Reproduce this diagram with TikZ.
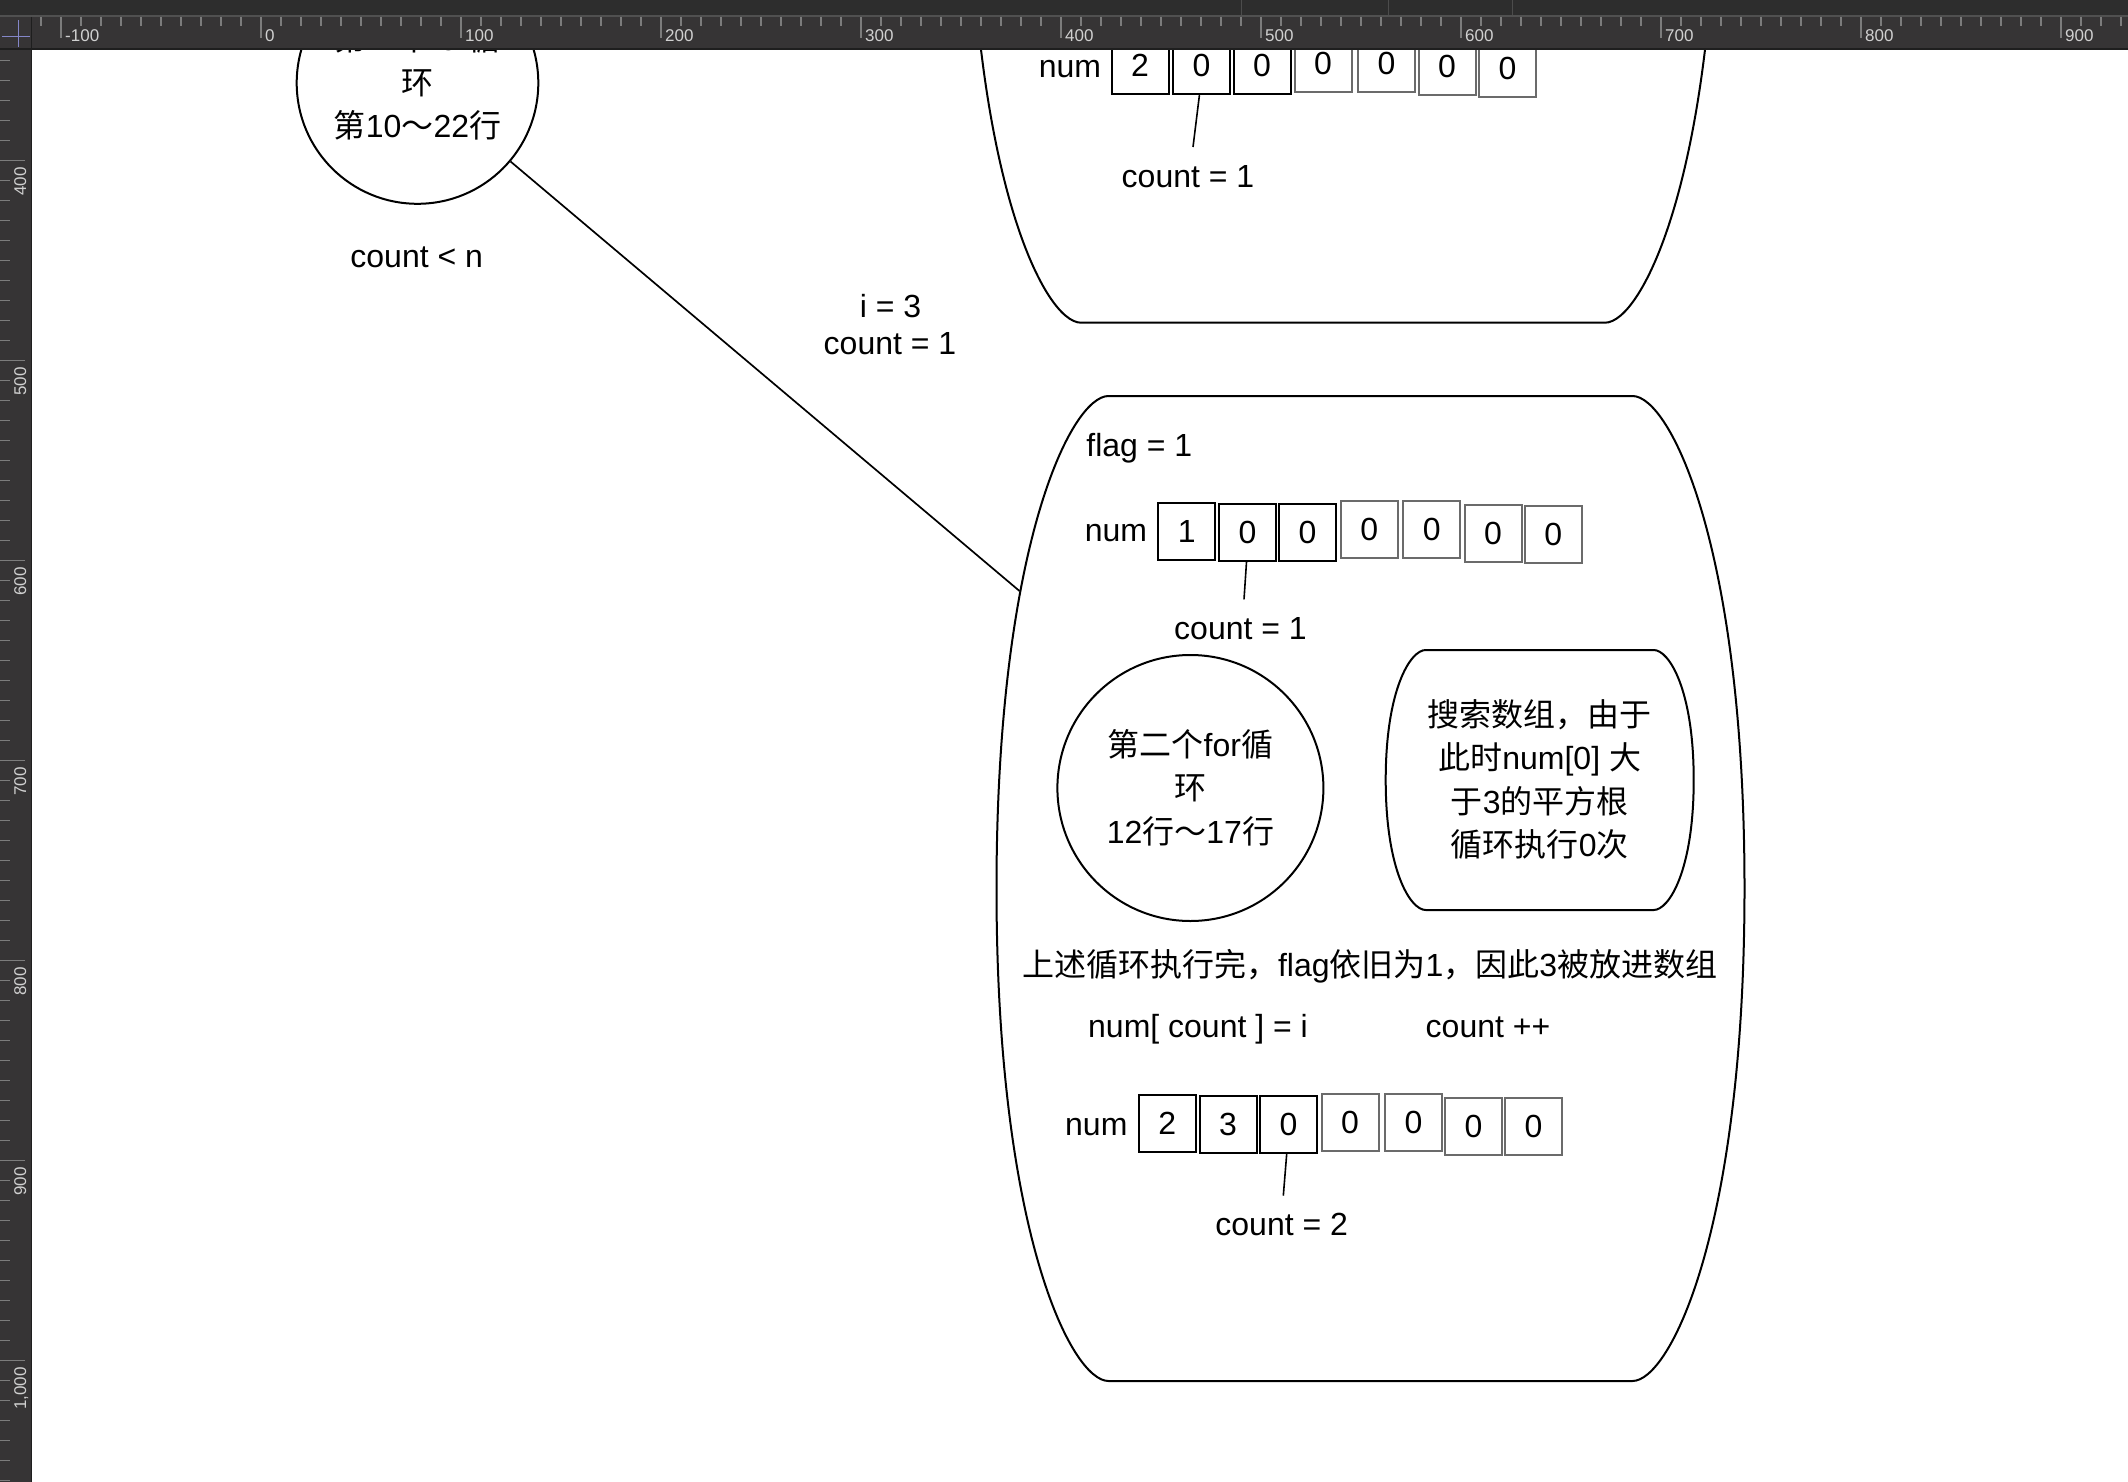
\documentclass[tikz,border=0pt]{standalone}
\usepackage{fontspec}
\setmainfont{Liberation Sans}
\newfontfamily\cjk{Noto Sans CJK SC}
\definecolor{topbg}{HTML}{2D2D2D}
\definecolor{rulerbg}{HTML}{363435}
\definecolor{rulerline}{HTML}{1E1E1E}
\definecolor{seam}{HTML}{505050}
\definecolor{rulertick}{HTML}{7C7C7C}
\definecolor{rulertext}{HTML}{D0D0D0}
\definecolor{crosscol}{HTML}{8486C8}
\newcommand\lnstrut{\rule[-7pt]{0pt}{37pt}}
\newcommand\barrel[6][]{%
  \pgfmathsetmacro\brlM{(#3+#4)/2}%
  \pgfmathsetmacro\brlH{(#4-#3)/2*0.305}%
  \pgfmathsetmacro\brlP{#5+0.1*#6}%
  \draw[#1] (#2-#5,#3) -- (#2+#5,#3)
    .. controls (#2+\brlP,#3) and (#2+#6,#3+\brlH) .. (#2+#6,\brlM)
    .. controls (#2+#6,#4-\brlH) and (#2+\brlP,#4) .. (#2+#5,#4)
    -- (#2-#5,#4)
    .. controls (#2-\brlP,#4) and (#2-#6,#4-\brlH) .. (#2-#6,\brlM)
    .. controls (#2-#6,#3+\brlH) and (#2-\brlP,#3) .. (#2-#5,#3) -- cycle;
}
\tikzset{
  txt/.style={font=\fontsize{32}{43.5}\selectfont, inner sep=0pt},
  lbl/.style={txt, anchor=base},
  cell/.style={draw, line width=2pt, minimum width=57pt, minimum height=57pt, inner sep=0pt, font=\fontsize{32}{38}\selectfont},
  gcell/.style={cell, draw=black!58},
  ring/.style={circle, draw, line width=2pt, inner sep=0pt, align=center, font=\fontsize{32}{43.5}\selectfont},
  shell/.style={line width=2pt},
  link/.style={line width=1.7pt},
  ptr/.style={line width=1.6pt},
  tick/.style={draw=rulertick, line width=1.2pt},
  rlab/.style={text=rulertext, font=\fontsize{17}{17}\selectfont, inner sep=0pt},
}
\begin{document}
\begin{tikzpicture}[x=1pt,y=-1pt]
\useasboundingbox (0,0) rectangle (2128,1482);
\fill[white] (0,0) rectangle (2128,1482);

% ---------- first loop circle ----------
\node[ring, minimum size=241.6pt] (c1) at (417.5,83) {\lnstrut{\cjk 第一个}for{\cjk 循}\\\lnstrut{\cjk 环}\\\lnstrut{\cjk 第}10{\cjk ～}22{\cjk 行}};
\node[lbl] (cn) at (416.7,267) {count < n};

% ---------- connector ----------
\coordinate (bigL) at (1019.5,591);
\draw[link] (c1) -- (bigL);
\node[lbl] (i3) at (890.5,317) {i = 3};
\node[lbl] (ic1) at (890,354.5) {count = 1};

% ---------- top container (cut off) ----------
\barrel[shell]{1343}{-662}{322.7}{262}{374}
\node[lbl] (tnum) at (1070,78) {num};
\node[cell]  (t1) at (1140,65.7) {2};
\node[cell]  (t2) at (1201.4,65.7) {0};
\node[cell]  (t3) at (1262,65.7) {0};
\node[gcell] (t4) at (1323,63.7) {0};
\node[gcell] (t5) at (1386.5,63.7) {0};
\node[gcell] (t6) at (1447,66.5) {0};
\node[gcell] (t7) at (1507.5,68.2) {0};
\coordinate (tp) at (1193,147);
\draw[ptr] ([xshift=-2pt]t2.south) -- (tp);
\node[lbl] (tcnt) at (1188,187.5) {count = 1};

% ---------- big container ----------
\barrel[shell]{1370.5}{396}{1381}{262}{374}
\node[lbl] (flag) at (1139.3,456) {flag = 1};
\node[lbl] (bnum) at (1116,541.7) {num};
\node[cell]  (b1) at (1186.7,531.4) {1};
\node[cell]  (b2) at (1247.5,532.3) {0};
\node[cell]  (b3) at (1307.5,532.3) {0};
\node[gcell] (b4) at (1369.2,529.5) {0};
\node[gcell] (b5) at (1431.8,529.5) {0};
\node[gcell] (b6) at (1493,533) {0};
\node[gcell] (b7) at (1553.3,534) {0};
\coordinate (bp) at (1244,599.3);
\draw[ptr] ([xshift=-1pt]b2.south) -- (bp);
\node[lbl] (bcnt) at (1240.5,639.3) {count = 1};

\node[ring, minimum size=266pt] (c2) at (1190.4,788) {\lnstrut{\cjk 第二个}for{\cjk 循}\\\lnstrut{\cjk 环}\\\lnstrut 12{\cjk 行～}17{\cjk 行}};

\node[txt, align=center] (srch) at (1539.7,780) {\lnstrut{\cjk 搜索数组，由于}\\\lnstrut{\cjk 此时}num[0] {\cjk 大}\\\lnstrut{\cjk 于}3{\cjk 的平方根}\\\lnstrut{\cjk 循环执行}0{\cjk 次}};
\barrel[shell]{1539.7}{650}{910}{114}{154}

\node[lbl] (done) at (1369.6,976.5) {{\cjk 上述循环执行完，}flag{\cjk 依旧为}1{\cjk ，因此}3{\cjk 被放进数组}};
\node[lbl] (assign) at (1198,1037) {num[ count ] = i};
\node[lbl] (inc) at (1488,1037) {count ++};

\node[lbl] (dnum) at (1096.3,1135) {num};
\node[cell]  (d1) at (1167.2,1123.4) {2};
\node[cell]  (d2) at (1228,1124.4) {3};
\node[cell]  (d3) at (1288.4,1124.4) {0};
\node[gcell] (d4) at (1350,1122) {0};
\node[gcell] (d5) at (1413.4,1122) {0};
\node[gcell] (d6) at (1473.5,1126) {0};
\node[gcell] (d7) at (1533.5,1126) {0};
\coordinate (dp) at (1283.3,1195.7);
\draw[ptr] ([xshift=-1.7pt]d3.south) -- (dp);
\node[lbl] (dcnt) at (1281.7,1235) {count = 2};

% ---------- editor rulers ----------
\fill[topbg] (0,0) rectangle (2128,16);
\foreach \sx in {1241,1388,1512} {\draw[draw=black!70, line width=1pt] (\sx,0) -- (\sx,15);}
\fill[rulerbg] (0,16) rectangle (2128,48);
\draw[draw=seam, line width=1.5pt] (0,16) -- (2128,16);
\fill[rulerbg] (0,48) rectangle (31,1482);
\draw[draw=rulerline, line width=2pt] (0,49) -- (2128,49);
\draw[draw=rulerline, line width=1.5pt] (31.5,17) -- (31.5,1482);
\foreach \u in {-110,-100,...,930} {\draw[tick] ({261+2*\u},17) -- ({261+2*\u},26);}
\foreach \u in {-100,0,...,900} {\draw[tick] ({261+2*\u},17) -- ({261+2*\u},38);
  \node[rlab, anchor=base west] at ({265+2*\u},42) {\u};}
\foreach \u in {350,360,...,1060} {\draw[tick] (0,{2*\u-639.3}) -- (10,{2*\u-639.3});}
\foreach \u/\t in {400/400,500/500,600/600,700/700,800/800,900/900,1000/{1,000}} {
  \draw[tick] (0,{2*\u-639.3}) -- (25,{2*\u-639.3});
  \node[rlab, rotate=90, anchor=base east] at (26,{2*\u-633}) {\t};}
\draw[draw=crosscol, line width=1.3pt] (18.3,20) -- (18.3,47);
\draw[draw=crosscol, line width=1.3pt] (2,36.7) -- (30,36.7);
\end{tikzpicture}
\end{document}
